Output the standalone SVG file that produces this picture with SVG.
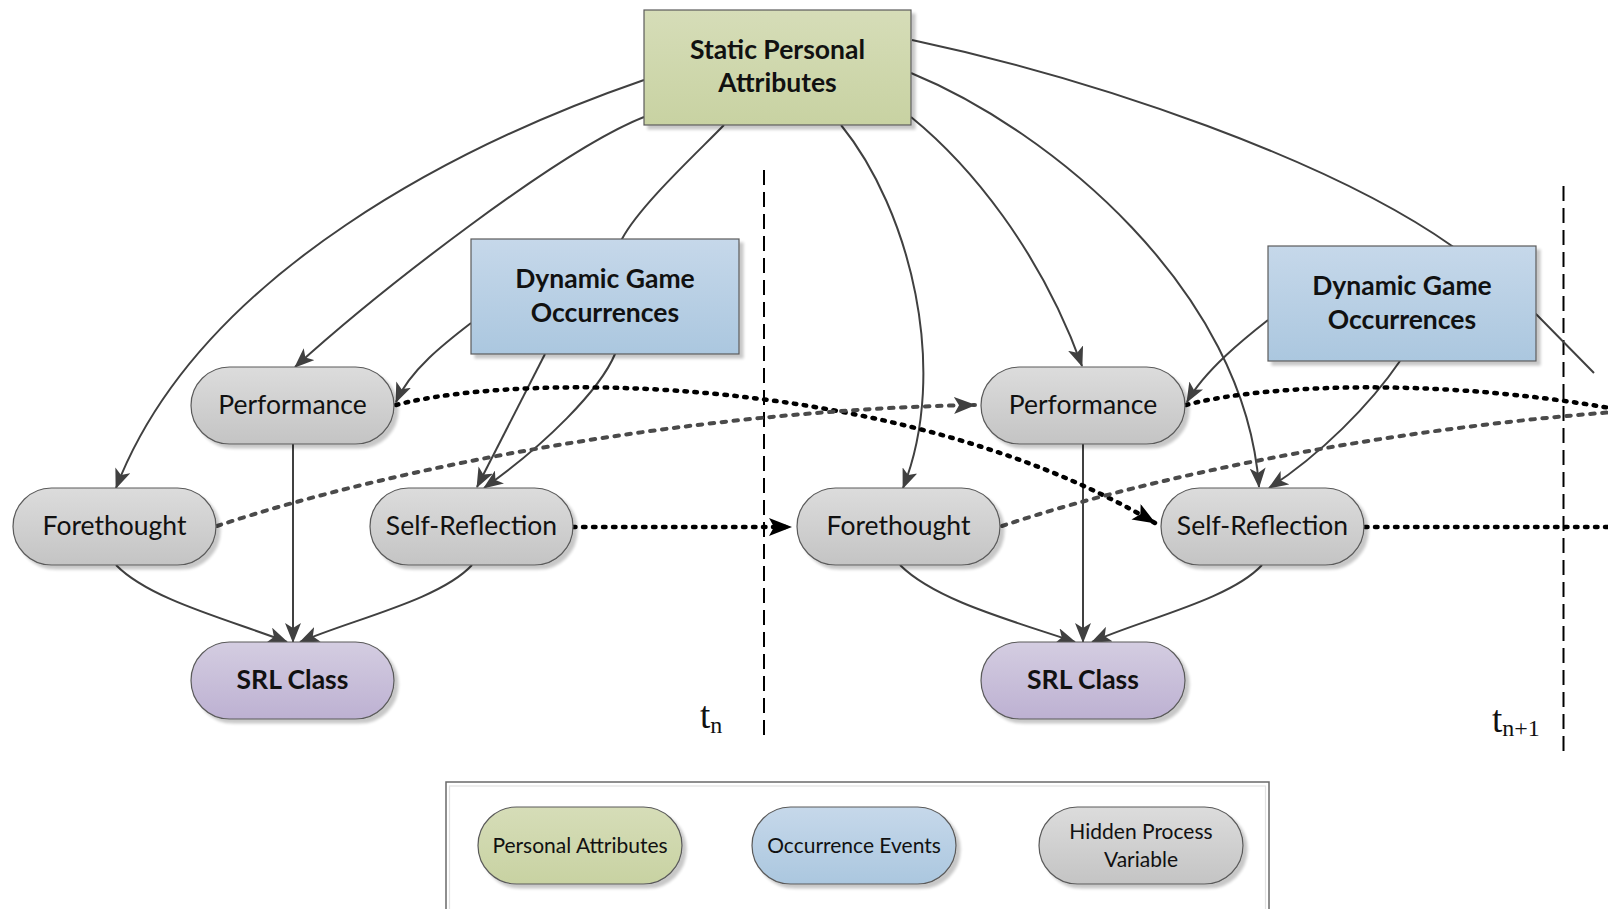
<svg xmlns="http://www.w3.org/2000/svg" width="1608" height="909" viewBox="0 0 1608 909">
  <defs>
    <linearGradient id="gGreen" x1="0" y1="0" x2="0" y2="1">
      <stop offset="0" stop-color="#d6ddb8"/>
      <stop offset="1" stop-color="#c8d2a2"/>
    </linearGradient>
    <linearGradient id="gBlue" x1="0" y1="0" x2="0" y2="1">
      <stop offset="0" stop-color="#c6d8ea"/>
      <stop offset="1" stop-color="#abc7df"/>
    </linearGradient>
    <linearGradient id="gGray" x1="0" y1="0" x2="0" y2="1">
      <stop offset="0" stop-color="#dcdcdc"/>
      <stop offset="1" stop-color="#c4c4c4"/>
    </linearGradient>
    <linearGradient id="gPurple" x1="0" y1="0" x2="0" y2="1">
      <stop offset="0" stop-color="#d4cde1"/>
      <stop offset="1" stop-color="#bdb1d2"/>
    </linearGradient>
    <filter id="shadow" x="-10%" y="-10%" width="125%" height="130%">
      <feGaussianBlur in="SourceAlpha" stdDeviation="1.8"/>
      <feOffset dx="4" dy="4" result="off"/>
      <feComponentTransfer><feFuncA type="linear" slope="0.22"/></feComponentTransfer>
      <feMerge><feMergeNode/><feMergeNode in="SourceGraphic"/></feMerge>
    </filter>
    <marker id="arrSolid" markerUnits="userSpaceOnUse" viewBox="0 0 20 16" refX="19" refY="8" markerWidth="20" markerHeight="16" orient="auto">
      <path d="M0,0 L20,8 L0,16 L5,8 z" fill="#404040"/>
    </marker>
    <marker id="arrBlack" markerUnits="userSpaceOnUse" viewBox="0 0 23 18" refX="22" refY="9" markerWidth="23" markerHeight="18" orient="auto">
      <path d="M0,0 L23,9 L0,18 L5,9 z" fill="#000"/>
    </marker>
    <marker id="arrGray" markerUnits="userSpaceOnUse" viewBox="0 0 22 17" refX="21" refY="8.5" markerWidth="22" markerHeight="17" orient="auto">
      <path d="M0,0 L22,8.5 L0,17 L5,8.5 z" fill="#404040"/>
    </marker>
    <style>
      .box { stroke: #5a5a5a; stroke-width: 1.2; filter: url(#shadow); }
      .green { fill: url(#gGreen); }
      .blue { fill: url(#gBlue); }
      .gray { fill: url(#gGray); }
      .purple { fill: url(#gPurple); }
      .lbl { font-family: Lato, "Liberation Sans", sans-serif; font-size: 26.5px; fill: #111; text-anchor: middle; }
      .bold { font-weight: bold; }
      .leg { font-family: Lato, "Liberation Sans", sans-serif; font-size: 21px; fill: #111; text-anchor: middle; }
      .time { font-family: "Liberation Serif", serif; fill: #111; }
      .edge { fill: none; stroke: #404040; stroke-width: 2; }
      .arr { marker-end: url(#arrSolid); }
      .dotBlack { fill: none; stroke: #000; stroke-width: 4.5; stroke-linecap: round; stroke-dasharray: 2.5 7.5; }
      .dashGray { fill: none; stroke: #4a4a4a; stroke-width: 4; stroke-linecap: round; stroke-dasharray: 4.5 7.5; }
      .sep { stroke: #000; stroke-width: 2; stroke-dasharray: 15 7; }
    </style>
  </defs>

  <rect width="1608" height="909" fill="#fff"/>

  <!-- time slice separators -->
  <g id="separators">
    <line class="sep" x1="764" y1="170" x2="764" y2="735"/>
    <line class="sep" x1="1563.5" y1="186" x2="1563.5" y2="752"/>
  </g>

  <!-- connectors -->
  <g id="connectors">
    <!-- static attributes to slice n -->
    <path class="edge arr" d="M644,80 C470,140 200,270 116,488"/>
    <path class="edge arr" d="M644,117 C560,150 380,290 295,367"/>
    <path class="edge arr" d="M724,125 C700,150 640,205 622,239 L615,354 C600,390 545,445 484,488"/>
    <path class="edge arr" d="M471,323 C445,343 410,370 396,402"/>
    <path class="edge arr" d="M545,354 L477,487"/>
    <path class="edge arr" d="M293,444 L293,642"/>
    <path class="edge arr" d="M116,565 C150,600 230,620 287,642"/>
    <path class="edge arr" d="M472,565 C440,600 350,620 300,642"/>
    <!-- static attributes to slice n+1 -->
    <path class="edge arr" d="M841,125 C910,210 950,370 903,488"/>
    <path class="edge arr" d="M911,117 C970,165 1040,250 1082,366"/>
    <path class="edge arr" d="M911,73 C1050,130 1245,290 1259,487"/>
    <path class="edge" d="M912,40 C1100,80 1330,160 1452,246 L1537,315 L1594,373"/>
    <path class="edge arr" d="M1268,320 C1245,338 1205,370 1187,402"/>
    <path class="edge arr" d="M1400,361 C1370,405 1320,455 1269,488"/>
    <path class="edge arr" d="M1083,444 L1083,642"/>
    <path class="edge arr" d="M900,565 C935,600 1010,620 1075,642"/>
    <path class="edge arr" d="M1262,565 C1230,600 1140,620 1092,642"/>
    <!-- temporal links -->
    <path class="dotBlack" d="M396,405 C520,372 900,372 1155,523" marker-end="url(#arrBlack)"/>
    <path class="dotBlack" d="M1186,405 C1310,372 1690,372 1946,524"/>
    <path class="dotBlack" d="M573,527 L791,527" marker-end="url(#arrBlack)"/>
    <path class="dotBlack" d="M1365,527 L1612,527"/>
    <path class="dashGray" d="M217,526 C400,465 700,410 975,405" marker-end="url(#arrGray)"/>
    <path class="dashGray" d="M1002,526 C1185,465 1485,410 1761,405"/>
  </g>

  <!-- nodes -->
  <g id="static-attributes">
    <rect class="box green" x="644" y="10" width="267" height="115"/>
    <text class="lbl bold" x="777.5" y="59">Static Personal</text>
    <text class="lbl bold" x="777.5" y="92">Attributes</text>
  </g>
  <g id="occurrences-n">
    <rect class="box blue" x="471" y="239" width="268" height="115"/>
    <text class="lbl bold" x="605" y="288">Dynamic Game</text>
    <text class="lbl bold" x="605" y="322">Occurrences</text>
  </g>
  <g id="occurrences-n1">
    <rect class="box blue" x="1268" y="246" width="268" height="115"/>
    <text class="lbl bold" x="1402" y="295">Dynamic Game</text>
    <text class="lbl bold" x="1402" y="329">Occurrences</text>
  </g>
  <g id="performance-n">
    <rect class="box gray" x="191" y="367" width="203" height="77" rx="38.5"/>
    <text class="lbl" x="292.5" y="414">Performance</text>
  </g>
  <g id="forethought-n">
    <rect class="box gray" x="13" y="488" width="203" height="77" rx="38.5"/>
    <text class="lbl" x="114.5" y="535">Forethought</text>
  </g>
  <g id="selfreflection-n">
    <rect class="box gray" x="370" y="488" width="203" height="77" rx="38.5"/>
    <text class="lbl" x="471.5" y="535">Self-Reflection</text>
  </g>
  <g id="srl-n">
    <rect class="box purple" x="191" y="642" width="203" height="77" rx="38.5"/>
    <text class="lbl bold" x="292.5" y="689">SRL Class</text>
  </g>
  <g id="performance-n1">
    <rect class="box gray" x="981" y="367" width="204" height="77" rx="38.5"/>
    <text class="lbl" x="1083" y="414">Performance</text>
  </g>
  <g id="forethought-n1">
    <rect class="box gray" x="797" y="488" width="203" height="77" rx="38.5"/>
    <text class="lbl" x="898.5" y="535">Forethought</text>
  </g>
  <g id="selfreflection-n1">
    <rect class="box gray" x="1161" y="488" width="203" height="77" rx="38.5"/>
    <text class="lbl" x="1262.5" y="535">Self-Reflection</text>
  </g>
  <g id="srl-n1">
    <rect class="box purple" x="981" y="642" width="204" height="77" rx="38.5"/>
    <text class="lbl bold" x="1083" y="689">SRL Class</text>
  </g>

  <!-- time labels -->
  <g id="time-labels">
    <text class="time" x="700" y="728" font-size="37">t<tspan font-size="24" dy="5">n</tspan></text>
    <text class="time" x="1492" y="732" font-size="37">t<tspan font-size="24" dy="4">n+1</tspan></text>
  </g>

  <!-- legend -->
  <g id="legend">
    <rect x="446" y="782" width="823" height="140" fill="#fff" stroke="#6a6a6a" stroke-width="1.5"/>
    <rect x="449.5" y="786" width="816" height="140" fill="none" stroke="#e2e2e2" stroke-width="1.2"/>
    <g id="legend-personal">
      <rect class="box green" x="478" y="807" width="204" height="77" rx="38.5"/>
      <text class="leg" x="580" y="853">Personal Attributes</text>
    </g>
    <g id="legend-occurrence">
      <rect class="box blue" x="752" y="807" width="204" height="77" rx="38.5"/>
      <text class="leg" x="854" y="853">Occurrence Events</text>
    </g>
    <g id="legend-hidden">
      <rect class="box gray" x="1039" y="807" width="204" height="77" rx="38.5"/>
      <text class="leg" x="1141" y="838.5">Hidden Process</text>
      <text class="leg" x="1141" y="866.5">Variable</text>
    </g>
  </g>
</svg>
